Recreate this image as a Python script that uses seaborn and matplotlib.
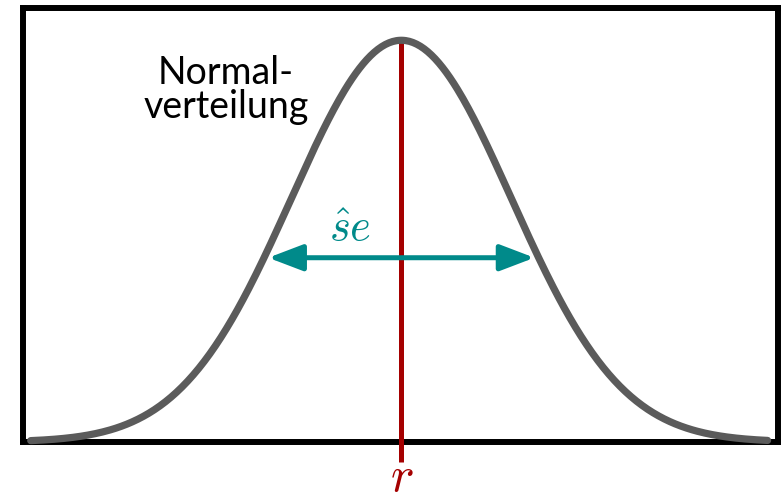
import numpy as np
import pandas as pd
import matplotlib
matplotlib.use('Agg')
import matplotlib.pyplot as plt
import seaborn as sns

sns.set_style('white')
plt.rcParams['font.family'] = ['Lato', 'DejaVu Sans']
plt.rcParams['mathtext.fontset'] = 'cm'

# Werte aus der Vorlage (Einheiten: Standardfehler)
r_hat = 0.0
se = 1.0
curve_range = [-3.37, 3.33]
arrow_x = [-1.21, 1.21]
arrow_y = 0.183
x_limits = [-3.44, 3.42]
y_limits = [0.0, 0.431]

x = np.linspace(curve_range[0], curve_range[1], 400)
dens = np.exp(-0.5 * ((x - r_hat) / se) ** 2) / (se * np.sqrt(2 * np.pi))
df = pd.DataFrame({'x': x, 'dichte': dens})

grau = '#5b5b5b'
rot = '#a50000'
tuerkis = '#008a8a'

fig = plt.figure(figsize=(7.81, 5.0), dpi=100)
ax = fig.add_axes([23 / 781, 58 / 500, 754.5 / 781, 434 / 500])

sns.lineplot(data=df, x='x', y='dichte', ax=ax, color=grau, lw=5.2,
             solid_capstyle='round', zorder=4, clip_on=False)

peak = dens.max()
ax.plot([r_hat, r_hat], [-0.0199, peak], color=rot, lw=3.6,
        solid_capstyle='butt', zorder=3, clip_on=False)

ax.annotate('', xy=(arrow_x[0], arrow_y), xytext=(arrow_x[1], arrow_y),
            arrowprops=dict(arrowstyle='<|-|>,head_length=1.05,head_width=0.4',
                            mutation_scale=20, color=tuerkis, lw=3.6,
                            shrinkA=0, shrinkB=0),
            zorder=5)

ax.text(-0.47, 0.1996, r'$\hat{s}e$', color=tuerkis, fontsize=32,
        ha='center', va='baseline')
ax.text(r_hat, -0.0347, r'$r$', color=rot, fontsize=36,
        ha='center', va='center', clip_on=False)
ax.text(-1.595, 0.3496, 'Normal-\nverteilung', color='black', fontsize=27,
        ha='center', va='center', linespacing=0.95)

ax.set_xlim(*x_limits)
ax.set_ylim(*y_limits)
ax.set_xticks([])
ax.set_yticks([])
ax.set_xlabel('')
ax.set_ylabel('')
for s in ax.spines.values():
    s.set_visible(True)
    s.set_color('black')
    s.set_linewidth(4.3)

fig.savefig('out.png', dpi=100)
